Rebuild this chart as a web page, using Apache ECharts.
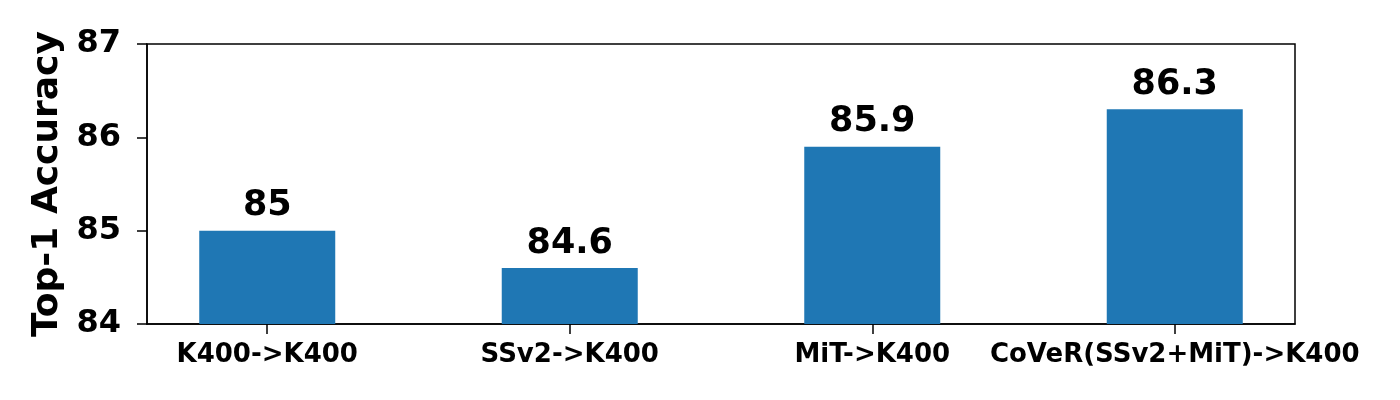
<!DOCTYPE html>
<html><head><meta charset="utf-8">
<script src="https://cdn.jsdelivr.net/npm/echarts@6/dist/echarts.min.js"></script>
<style>html,body{margin:0;padding:0;background:#fff}#c{width:1400px;height:400px}</style>
</head><body><div id="c"></div>
<script>
const categories = ["K400->K400", "SSv2->K400", "MiT->K400", "CoVeR(SSv2+MiT)->K400"];
const values = [85, 84.6, 85.9, 86.3];
const yTicks = [84, 85, 86, 87];
const yAxisTitle = "Top-1 Accuracy";

const font = "DejaVu Sans";
const chart = echarts.init(document.getElementById('c'), null, {renderer: 'canvas'});
chart.setOption({
  animation: false,
  grid: {left: 147, right: 105, top: 44, bottom: 76, show: true, borderColor: '#000', borderWidth: 1.5, backgroundColor: 'transparent'},
  xAxis: {
    type: 'value', min: -0.3975, max: 3.3975,
    splitLine: {show: false},
    axisLine: {show: true, onZero: false, lineStyle: {color: '#000', width: 1.5}},
    axisTick: {show: true, inside: false, length: 10, lineStyle: {color: '#000', width: 1.5}, customValues: [0,1,2,3]},
    axisLabel: {customValues: [0,1,2,3], formatter: v => categories[Math.round(v)], color: '#000', fontFamily: font, fontWeight: 'bold', fontSize: 26, margin: 18}
  },
  yAxis: {
    type: 'value', min: yTicks[0], max: yTicks[yTicks.length-1], interval: 1,
    name: yAxisTitle, nameLocation: 'middle', nameGap: 80,
    nameTextStyle: {color: '#000', fontFamily: font, fontWeight: 'bold', fontSize: 36},
    splitLine: {show: false},
    axisLine: {show: true, onZero: false, lineStyle: {color: '#000', width: 1.5}},
    axisTick: {show: true, inside: false, length: 10, lineStyle: {color: '#000', width: 1.5}},
    axisLabel: {color: '#000', fontFamily: font, fontWeight: 'bold', fontSize: 32, margin: 26}
  },
  series: [{
    type: 'bar',
    data: values.map((v, i) => [i, v]),
    barWidth: 136,
    itemStyle: {color: '#1f77b4'},
    label: {show: true, position: 'top', distance: 7, formatter: p => String(p.value[1]), color: '#000', fontFamily: font, fontWeight: 'bold', fontSize: 35}
  }]
});
</script></body></html>
